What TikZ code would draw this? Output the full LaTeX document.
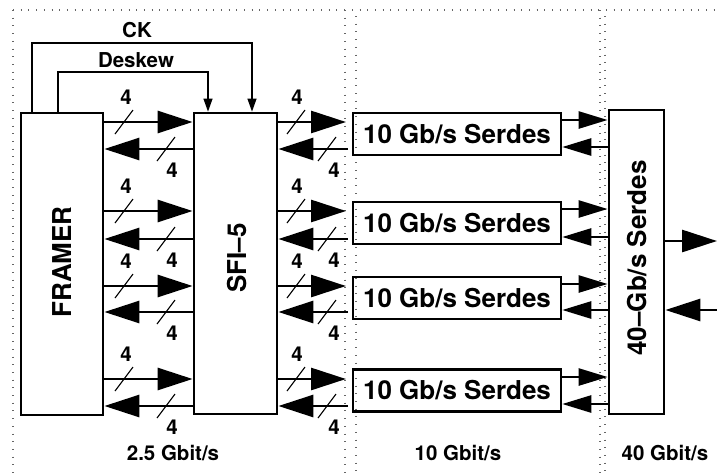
\documentclass[tikz,border=0pt]{standalone}
\usepackage{fontspec}
\setmainfont{TeX Gyre Heros}
\usetikzlibrary{arrows.meta}
\tikzset{
  dotline/.style={line width=2.6pt, dash pattern=on 1pt off 6.7pt, draw=black!60},
  blk/.style={draw, line width=2.8pt, inner sep=0pt},
  sbox/.style={draw, line width=2.5pt, inner sep=0pt, minimum width=208pt, minimum height=42pt},
  bigtxt/.style={font=\fontsize{26}{30}\selectfont\bfseries, inner sep=0pt},
  smalltxt/.style={font=\fontsize{20.5}{24}\selectfont\bfseries, inner sep=0pt},
  bigarr/.style={line width=2.8pt, -{Triangle[length=35pt 0 0,width=22pt 0 0]}},
  midarr/.style={line width=2.6pt, -{Triangle[length=29pt 0 0,width=17pt 0 0]}},
  ckarr/.style={line width=1.2pt, -{Triangle[length=13pt 0 0,width=9pt 0 0]}},
  slash/.style={line width=1.1pt}
}
\begin{document}
\begin{tikzpicture}[x=1pt,y=-1pt]
\useasboundingbox (0,0) rectangle (717,474);
% dotted frame lines
\draw[dotline] (13,10) -- (717,10);
\draw[dotline] (13,10) -- (13,474);
\draw[dotline] (345,10) -- (345,474);
\draw[dotline] (356,16) -- (356,474);
\draw[dotline] (600,10) -- (600,474);
\draw[dotline] (605,16) -- (605,474);
% boxes
\node[blk, minimum width=82pt, minimum height=302pt] (framer) at (62,264) {};
\node[blk, minimum width=83pt, minimum height=301pt] (sfi) at (235.5,263.5) {};
\node[blk, minimum width=55pt, minimum height=304pt] (g40) at (636.5,262) {};
\node[bigtxt, rotate=90] (framertxt) at (62,262) {FRAMER};
\node[bigtxt, rotate=90] (sfitxt) at (237,258) {SFI–5};
\node[bigtxt, rotate=90] (g40txt) at (637,258) {40–Gb/s Serdes};
\node[sbox] (s1) at (457,134) {};
\node[sbox] (s2) at (457,223) {};
\node[sbox] (s3) at (457,298) {};
\node[sbox] (s4) at (457,390.5) {};
\foreach \i in {1,...,4}{
  \node[bigtxt] (s\i txt) at (s\i.center) {10 Gb/s Serdes};
}
% CK and Deskew
\coordinate (ck1) at (32,43);
\coordinate (ck2) at (252,43);
\coordinate (dk1) at (58,72);
\coordinate (dk2) at (208,72);
\draw[ckarr] (framer.north -| ck1) -- (ck1) -- (ck2) -- (sfi.north -| ck2);
\draw[ckarr] (framer.north -| dk1) -- (dk1) -- (dk2) -- (sfi.north -| dk2);
\node[smalltxt] (cklbl) at (137,30) {CK};
\node[smalltxt] (dklbl) at (136,60) {Deskew};
% bus arrows
\foreach \i/\r/\l in {1/122/149, 2/211/239, 3/286/312, 4/379/406}{
  \draw[bigarr] (framer.east |- 0,\r) -- (sfi.west |- 0,\r);
  \draw[bigarr] (sfi.west |- 0,\l) -- (framer.east |- 0,\l);
  \coordinate (t\i) at (346,\r);
  \coordinate (f\i) at (348,\l);
  \draw[bigarr] (sfi.east |- 0,\r) -- (t\i);
  \draw[bigarr] (f\i) -- (sfi.east |- 0,\l);
  \draw[slash] (115,\r+12) -- (133,\r-12);
  \draw[slash] (157,\l+12) -- (175,\l-12);
  \draw[slash] (287,\r+12) -- (305,\r-12);
  \draw[slash] (318,\l+12) -- (336,\l-12);
  \node[smalltxt] (la\i) at (126,\r-25) {4};
  \node[smalltxt] (lb\i) at (172,\l+21) {4};
  \node[smalltxt] (ra\i) at (297,\r-25) {4};
  \node[smalltxt] (rb\i) at (334,\l+21) {4};
  \draw[midarr] (s\i.east |- 0,{\r-2}) -- (g40.west |- 0,{\r-2});
  \draw[midarr] (g40.west |- 0,{\l-2}) -- (s\i.east |- 0,{\l-2});
}
% outer arrows
\coordinate (outR) at (717,241);
\coordinate (inR) at (717,310);
\draw[bigarr] (g40.east |- outR) -- (outR);
\draw[bigarr] (inR) -- (g40.east |- inR);
% rate labels
\node[smalltxt] (r1) at (173,453) {2.5 Gbit/s};
\node[smalltxt] (r2) at (458,453) {10 Gbit/s};
\node[smalltxt] (r3) at (665,453) {40 Gbit/s};
\end{tikzpicture}
\end{document}
